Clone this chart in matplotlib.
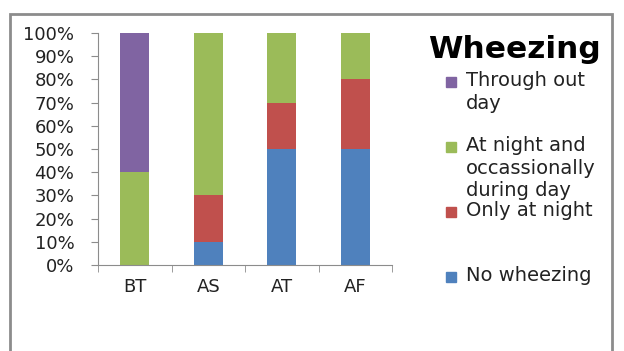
import matplotlib.pyplot as plt
import matplotlib.patches as mpatches
import numpy as np

plt.rcParams['font.family'] = ['DejaVu Sans']

groups = ["BT", "AS", "AT", "AF"]
series = ["No wheezing", "Only at night", "At night and\noccassionally\nduring day", "Through out\nday"]
no_wheezing = [0, 10, 50, 50]
only_night = [0, 20, 20, 30]
night_and_day = [40, 70, 30, 20]
through_day = [60, 0, 0, 0]
colors = ["#4F81BD", "#C0504D", "#9BBB59", "#8064A2"]

fig = plt.figure(figsize=(6.24, 3.51), dpi=100)
W, H = 624, 351

# outer gray chart frame
fig.patches.append(mpatches.Rectangle((10 / W, -0.1), 602 / W, 1.1 - 14 / H,
                                      transform=fig.transFigure, fill=False,
                                      edgecolor="#8c8c8c", linewidth=2))

ax = fig.add_axes([98 / W, 1 - 265 / H, (392 - 98) / W, (265 - 33) / H])
x = np.arange(len(groups))
bottom = np.zeros(len(groups))
for vals, c in zip([no_wheezing, only_night, night_and_day, through_day], colors):
    ax.bar(x, vals, 0.4, bottom=bottom, color=c)
    bottom += np.array(vals)

ax.set_xlim(-0.5, len(groups) - 0.5)
ax.set_ylim(0, 100)
ax.set_yticks(np.arange(0, 101, 10))
ax.set_yticklabels([f"{v}%" for v in range(0, 101, 10)], fontsize=13, color="#222222")
ax.set_xticks(x)
ax.set_xticklabels(groups, fontsize=13, color="#222222")
ax.set_xticks(np.arange(-0.5, len(groups)), minor=True)
ax.tick_params(axis="x", which="major", length=0, pad=9)
ax.tick_params(axis="x", which="minor", length=5, color="#8c8c8c", direction="out")
ax.tick_params(axis="y", length=5, color="#8c8c8c", pad=12)
for s in ["top", "right"]:
    ax.spines[s].set_visible(False)
for s in ["left", "bottom"]:
    ax.spines[s].set_color("#8c8c8c")

# legend
fig.text(428 / W, 1 - 50 / H, "Wheezing", fontsize=22.5, fontweight="bold", va="center")
ys = [82, 147, 212, 277]
for name, c, y in zip(series[::-1], colors[::-1], ys):
    fig.patches.append(mpatches.Rectangle((446 / W, 1 - (y + 5) / H), 10 / W, 10 / H,
                                          transform=fig.transFigure, color=c))
    fig.text(466 / W, 1 - (y - 11) / H, name, fontsize=14, va="top",
             color="#222222", linespacing=1.25)

fig.savefig("out.png", dpi=100)
